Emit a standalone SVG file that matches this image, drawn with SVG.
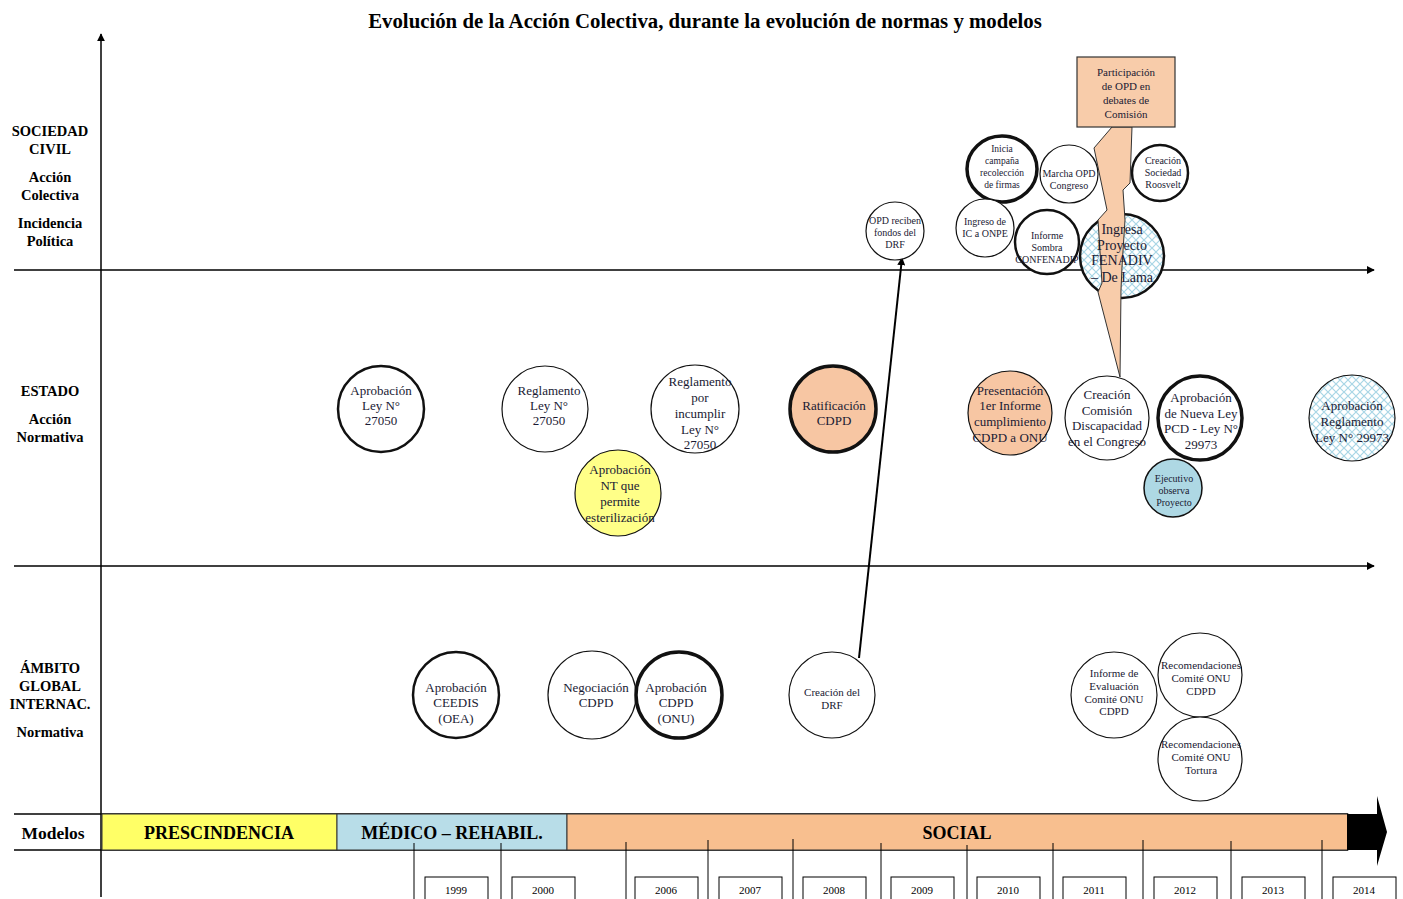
<svg xmlns="http://www.w3.org/2000/svg" width="1403" height="899" viewBox="0 0 1403 899">
<style>
text{font-family:"Liberation Serif","Times New Roman",serif;text-anchor:middle;fill:#1a1a33}
.ttl{font-size:20.8px;font-weight:bold;fill:#000}
.lab{font-size:14.5px;font-weight:bold;fill:#000}
.mod{font-size:18px;font-weight:bold;fill:#000}
.t13{font-size:13px}
.t14{font-size:14px}
.t11{font-size:11px}
.t10{font-size:10px}
.t9{font-size:9.5px}
.yr{font-size:11px;fill:#000}
.c{fill:#fff;stroke:#111}
.thin{stroke-width:1.2}
.mid{stroke-width:2.5}
.thk{stroke-width:3.5}
.ax{stroke:#000;stroke-width:1.5;fill:none}
.tk{stroke:#000;stroke-width:1;fill:none}
.yb{fill:#fff;stroke:#000;stroke-width:1}
</style>
<defs>
<marker id="ah" viewBox="0 0 10 10" refX="9" refY="5" markerWidth="8" markerHeight="8" orient="auto" markerUnits="userSpaceOnUse">
<path d="M0,0 L10,5 L0,10 z" fill="#000"/>
</marker>
<pattern id="hatch" width="8" height="8" patternUnits="userSpaceOnUse">
<rect width="8" height="8" fill="#fff"/>
<path d="M0,0 L8,8 M8,0 L0,8" stroke="#a8d6e6" stroke-width="1.2"/>
</pattern>
</defs>
<rect width="1403" height="899" fill="#fff"/>
<text class="ttl" x="705" y="28">Evolución de la Acción Colectiva, durante la evolución de normas y modelos</text>

<g id="axes">
<line class="ax" x1="101" y1="897" x2="101" y2="34" marker-end="url(#ah)"/>
<line class="ax" x1="14" y1="270" x2="1374" y2="270" marker-end="url(#ah)"/>
<line class="ax" x1="14" y1="566" x2="1374" y2="566" marker-end="url(#ah)"/>
</g>

<g id="labels">
<text class="lab" x="50" y="136">SOCIEDAD</text>
<text class="lab" x="50" y="154">CIVIL</text>
<text class="lab" x="50" y="182">Acción</text>
<text class="lab" x="50" y="200">Colectiva</text>
<text class="lab" x="50" y="228">Incidencia</text>
<text class="lab" x="50" y="246">Política</text>
<text class="lab" x="50" y="396">ESTADO</text>
<text class="lab" x="50" y="424">Acción</text>
<text class="lab" x="50" y="442">Normativa</text>
<text class="lab" x="50" y="673">ÁMBITO</text>
<text class="lab" x="50" y="691">GLOBAL</text>
<text class="lab" x="50" y="709">INTERNAC.</text>
<text class="lab" x="50" y="737">Normativa</text>
</g>

<g id="modelos">
<line class="ax" x1="14" y1="814" x2="1348" y2="814"/>
<line class="ax" x1="14" y1="850" x2="1348" y2="850"/>
<rect x="102" y="814" width="235" height="36" fill="#ffff66" stroke="#333" stroke-width="1"/>
<rect x="337" y="814" width="230" height="36" fill="#b8dde8" stroke="#333" stroke-width="1"/>
<rect x="567" y="814" width="781" height="36" fill="#f8bf8f" stroke="#333" stroke-width="1"/>
<path d="M1347,814 L1377,814 L1377,796 L1387,832 L1377,866 L1377,850 L1347,850 z" fill="#000"/>
<text class="mod" x="53" y="839" style="font-size:17.5px">Modelos</text>
<text class="mod" x="219" y="839">PRESCINDENCIA</text>
<text class="mod" x="452" y="839">MÉDICO – REHABIL.</text>
<text class="mod" x="957" y="839">SOCIAL</text>
</g>

<g id="years">
<line class="tk" x1="414" y1="843" x2="414" y2="899"/>
<line class="tk" x1="501" y1="843" x2="501" y2="899"/>
<line class="tk" x1="626" y1="842" x2="626" y2="899"/>
<line class="tk" x1="708" y1="840" x2="708" y2="899"/>
<line class="tk" x1="793" y1="839" x2="793" y2="899"/>
<line class="tk" x1="881" y1="843" x2="881" y2="899"/>
<line class="tk" x1="967" y1="845" x2="967" y2="899"/>
<line class="tk" x1="1053" y1="843" x2="1053" y2="899"/>
<line class="tk" x1="1143" y1="840" x2="1143" y2="899"/>
<line class="tk" x1="1231" y1="841" x2="1231" y2="899"/>
<line class="tk" x1="1322" y1="840" x2="1322" y2="899"/>
<rect class="yb" x="425" y="877" width="63" height="30"/><text class="yr" x="456" y="894">1999</text>
<rect class="yb" x="512" y="877" width="63" height="30"/><text class="yr" x="543" y="894">2000</text>
<rect class="yb" x="635" y="877" width="63" height="30"/><text class="yr" x="666" y="894">2006</text>
<rect class="yb" x="719" y="877" width="63" height="30"/><text class="yr" x="750" y="894">2007</text>
<rect class="yb" x="803" y="877" width="63" height="30"/><text class="yr" x="834" y="894">2008</text>
<rect class="yb" x="891" y="877" width="63" height="30"/><text class="yr" x="922" y="894">2009</text>
<rect class="yb" x="977" y="877" width="63" height="30"/><text class="yr" x="1008" y="894">2010</text>
<rect class="yb" x="1063" y="877" width="63" height="30"/><text class="yr" x="1094" y="894">2011</text>
<rect class="yb" x="1154" y="877" width="63" height="30"/><text class="yr" x="1185" y="894">2012</text>
<rect class="yb" x="1242" y="877" width="63" height="30"/><text class="yr" x="1273" y="894">2013</text>
<rect class="yb" x="1333" y="877" width="63" height="30"/><text class="yr" x="1364" y="894">2014</text>
</g>

<g id="connectors">
<line x1="859" y1="658" x2="902" y2="258" stroke="#000" stroke-width="2" marker-end="url(#ah)"/>
</g>

<!-- Sociedad civil -->
<g id="n-opd-fondos">
<circle class="c thin" cx="895" cy="231" r="29"/>
<text class="t10" x="895" y="224">OPD reciben</text>
<text class="t10" x="895" y="236">fondos del</text>
<text class="t10" x="895" y="248">DRF</text>
</g>
<g id="n-inicia">
<ellipse class="c thk" cx="1002" cy="169" rx="35" ry="33"/>
<text class="t9" x="1002" y="152">Inicia</text>
<text class="t9" x="1002" y="164">campaña</text>
<text class="t9" x="1002" y="176">recolección</text>
<text class="t9" x="1002" y="188">de firmas</text>
</g>
<g id="n-marcha">
<circle class="c thin" cx="1069" cy="174" r="29"/>
<text class="t10" x="1069" y="177">Marcha OPD</text>
<text class="t10" x="1069" y="189">Congreso</text>
</g>
<g id="n-ingreso-ic">
<circle class="c thin" cx="985" cy="228" r="29"/>
<text class="t10" x="985" y="225">Ingreso de</text>
<text class="t10" x="985" y="237">IC a ONPE</text>
</g>
<g id="n-informe-sombra">
<circle class="c mid" cx="1047" cy="242" r="32"/>
<text class="t10" x="1047" y="239">Informe</text>
<text class="t10" x="1047" y="251">Sombra</text>
<text class="t10" x="1047" y="263">CONFENADIP</text>
</g>
<g id="n-ingresa">
<circle cx="1122" cy="256" r="42" fill="url(#hatch)" stroke="#111" stroke-width="2.5"/>
</g>
<g id="n-roosvelt">
<circle class="c mid" cx="1160" cy="173" r="28"/>
<text class="t10" x="1163" y="164">Creación</text>
<text class="t10" x="1163" y="176">Sociedad</text>
<text class="t10" x="1163" y="188">Roosvelt</text>
</g>
<g id="n-participacion">
<path d="M1112,127 L1094,148 L1107,210 L1098,220 L1102,283 L1098,292 L1120,377 L1121,290 L1122,267 L1125,220 L1123,190 L1130,183 L1132,127 z" fill="#f8ccaa" stroke="#333" stroke-width="1"/>
<rect x="1077" y="57" width="98" height="70" fill="#f8ccaa" stroke="#333" stroke-width="1.2"/>
<text class="t11" x="1126" y="76">Participación</text>
<text class="t11" x="1126" y="90">de OPD en</text>
<text class="t11" x="1126" y="104">debates de</text>
<text class="t11" x="1126" y="118">Comisión</text>
</g>
<g id="n-ingresa-label">
<text class="t14" x="1122" y="234">Ingresa</text>
<text class="t14" x="1122" y="250">Proyecto</text>
<text class="t14" x="1122" y="265">FENADIV</text>
<text class="t14" x="1122" y="282">– De Lama</text>
</g>

<!-- Estado -->
<g id="n-ley27050">
<circle class="c mid" cx="381" cy="409" r="43"/>
<text class="t13" x="381" y="395">Aprobación</text>
<text class="t13" x="381" y="410">Ley N°</text>
<text class="t13" x="381" y="425">27050</text>
</g>
<g id="n-reg27050">
<circle class="c thin" cx="545" cy="409" r="43"/>
<text class="t13" x="549" y="395">Reglamento</text>
<text class="t13" x="549" y="410">Ley N°</text>
<text class="t13" x="549" y="425">27050</text>
</g>
<g id="n-reg-incumplir">
<circle class="c thin" cx="695" cy="409" r="44"/>
<text class="t13" x="700" y="386">Reglamento</text>
<text class="t13" x="700" y="402">por</text>
<text class="t13" x="700" y="418">incumplir</text>
<text class="t13" x="700" y="434">Ley N°</text>
<text class="t13" x="700" y="449">27050</text>
</g>
<g id="n-nt">
<circle cx="618" cy="493" r="43" fill="#ffff88" stroke="#111" stroke-width="1.2"/>
<text class="t13" x="620" y="474">Aprobación</text>
<text class="t13" x="620" y="490">NT que</text>
<text class="t13" x="620" y="506">permite</text>
<text class="t13" x="620" y="522">esterilización</text>
</g>
<g id="n-ratificacion">
<circle cx="833" cy="409" r="43" fill="#f7c6a3" stroke="#111" stroke-width="3.5"/>
<text class="t13" x="834" y="410">Ratificación</text>
<text class="t13" x="834" y="425">CDPD</text>
</g>
<g id="n-presentacion">
<circle cx="1010" cy="413" r="42" fill="#f7c6a3" stroke="#111" stroke-width="1.2"/>
<text class="t13" x="1010" y="395">Presentación</text>
<text class="t13" x="1010" y="410">1er Informe</text>
<text class="t13" x="1010" y="426">cumplimiento</text>
<text class="t13" x="1010" y="442">CDPD a ONU</text>
</g>
<g id="n-comision">
<circle class="c thin" cx="1107" cy="418" r="42"/>
<text class="t13" x="1107" y="399">Creación</text>
<text class="t13" x="1107" y="415">Comisión</text>
<text class="t13" x="1107" y="430">Discapacidad</text>
<text class="t13" x="1107" y="446">en el Congreso</text>
</g>
<g id="n-ley29973">
<circle class="c thk" cx="1200" cy="418" r="42"/>
<text class="t13" x="1201" y="402">Aprobación</text>
<text class="t13" x="1201" y="418">de Nueva Ley</text>
<text class="t13" x="1201" y="433">PCD - Ley N°</text>
<text class="t13" x="1201" y="449">29973</text>
</g>
<g id="n-ejecutivo">
<circle cx="1173" cy="488" r="29" fill="#aed8e4" stroke="#111" stroke-width="1.5"/>
<text class="t10" x="1174" y="482">Ejecutivo</text>
<text class="t10" x="1174" y="494">observa</text>
<text class="t10" x="1174" y="506">Proyecto</text>
</g>
<g id="n-reg29973">
<circle cx="1352" cy="418" r="43" fill="url(#hatch)" stroke="#111" stroke-width="1.2"/>
<text class="t13" x="1352" y="410">Aprobación</text>
<text class="t13" x="1352" y="426">Reglamento</text>
<text class="t13" x="1352" y="442">Ley N° 29973</text>
</g>

<!-- Ambito global -->
<g id="n-ceedis">
<circle class="c mid" cx="456" cy="695" r="43"/>
<text class="t13" x="456" y="692">Aprobación</text>
<text class="t13" x="456" y="707">CEEDIS</text>
<text class="t13" x="456" y="723">(OEA)</text>
</g>
<g id="n-negociacion">
<circle class="c thin" cx="592" cy="695" r="44"/>
<text class="t13" x="596" y="692">Negociación</text>
<text class="t13" x="596" y="707">CDPD</text>
</g>
<g id="n-cdpd-onu">
<circle class="c thk" cx="679" cy="695" r="43"/>
<text class="t13" x="676" y="692">Aprobación</text>
<text class="t13" x="676" y="707">CDPD</text>
<text class="t13" x="676" y="723">(ONU)</text>
</g>
<g id="n-drf">
<circle class="c thin" cx="832" cy="695" r="43"/>
<text class="t11" x="832" y="696">Creación del</text>
<text class="t11" x="832" y="709">DRF</text>
</g>
<g id="n-informe-eval">
<circle class="c thin" cx="1114" cy="695" r="43"/>
<text class="t11" x="1114" y="677">Informe de</text>
<text class="t11" x="1114" y="690">Evaluación</text>
<text class="t11" x="1114" y="703">Comité ONU</text>
<text class="t11" x="1114" y="715">CDPD</text>
</g>
<g id="n-rec-cdpd">
<circle class="c thin" cx="1200" cy="675" r="42"/>
<text class="t11" x="1201" y="669">Recomendaciones</text>
<text class="t11" x="1201" y="682">Comité ONU</text>
<text class="t11" x="1201" y="695">CDPD</text>
</g>
<g id="n-rec-tortura">
<circle class="c thin" cx="1200" cy="759" r="42"/>
<text class="t11" x="1201" y="748">Recomendaciones</text>
<text class="t11" x="1201" y="761">Comité ONU</text>
<text class="t11" x="1201" y="774">Tortura</text>
</g>
</svg>
